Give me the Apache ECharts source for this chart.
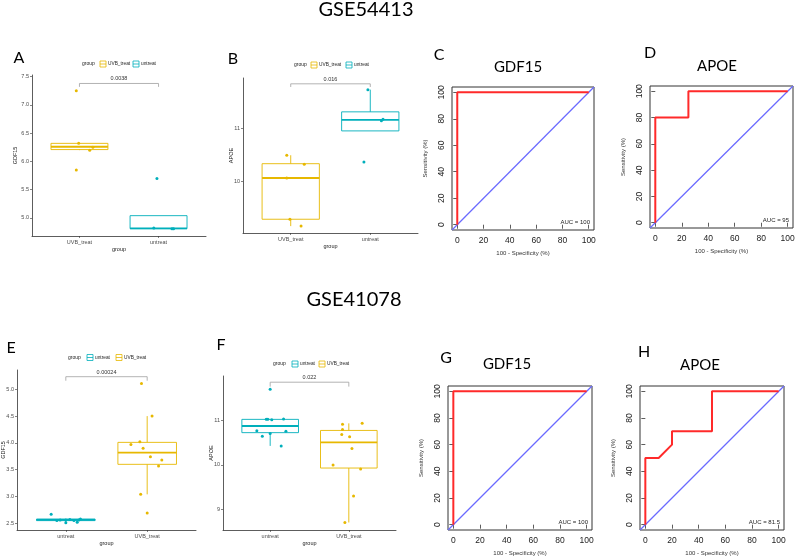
<!DOCTYPE html>
<html><head><meta charset="utf-8">
<script src="https://cdn.jsdelivr.net/npm/echarts@6/dist/echarts.min.js"></script>
<style>html,body{margin:0;padding:0;background:#fff}#c{width:795px;height:558px}</style>
</head><body><div id="c"></div>
<script>
// ---------------- DATA ----------------
const groupColors = {UVB_treat: '#E7B800', untreat: '#00AFBB'};

// GSE54413 – A: GDF15 boxplot
const A_groups = ['UVB_treat', 'untreat'];
const A_stats = [[6.20, 6.21, 6.26, 6.32, 6.32], [4.81, 4.81, 4.815, 5.04, 5.04]]; // lo, q1, med, q3, hi
const A_uvb_x = [0.96, 0.99, 1.17, 1.13, 0.96];
const A_uvb_y = [7.25, 6.32, 6.25, 6.20, 5.85];
const A_unt_x = [1.98, 1.94, 2.17, 2.19];
const A_unt_y = [5.70, 4.82, 4.81, 4.81];
const A_yticks = [5.0, 5.5, 6.0, 6.5, 7.0, 7.5];
const A_bracket = [7.32, 7.38];
const A_p = '0.0038';

// GSE54413 – B: APOE boxplot
const B_groups = ['UVB_treat', 'untreat'];
const B_stats = [[9.15, 9.28, 10.06, 10.33, 10.49], [10.95, 10.95, 11.16, 11.31, 11.73]];
const B_uvb_x = [0.95, 1.17, 0.95, 0.99, 1.13];
const B_uvb_y = [10.49, 10.32, 10.06, 9.28, 9.15];
const B_unt_x = [1.97, 2.16, 2.14, 1.92];
const B_unt_y = [11.73, 11.17, 11.14, 10.36];
const B_yticks = [10, 11];
const B_bracket = [11.78, 11.84];
const B_p = '0.016';

// GSE54413 – C/D: ROC curves
const C_fpr = [0, 0, 100];
const C_tpr = [0, 100, 100];
const C_auc = 'AUC = 100';
const D_fpr = [0, 0, 25, 25, 100];
const D_tpr = [0, 80, 80, 100, 100];
const D_auc = 'AUC = 95';

// GSE41078 – E: GDF15 boxplot
const E_groups = ['untreat', 'UVB_treat'];
const E_stats = [[2.51, 2.55, 2.565, 2.58, 2.58], [3.04, 3.60, 3.82, 4.01, 4.50]];
const E_unt_x = [0.82, 0.89, 1.00, 1.00, 1.14, 1.18, 1.16, 1.05, 0.93, 1.10];
const E_unt_y = [2.67, 2.55, 2.56, 2.51, 2.52, 2.58, 2.56, 2.57, 2.56, 2.55];
const E_uvb_x = [1.93, 2.06, 1.91, 1.80, 1.95, 2.04, 2.18, 2.14, 1.92, 2.00];
const E_uvb_y = [5.11, 4.50, 4.02, 3.97, 3.90, 3.74, 3.68, 3.57, 3.04, 2.69];
const E_yticks = [2.5, 3.0, 3.5, 4.0, 4.5, 5.0];
const E_bracket = [5.16, 5.235];
const E_p = '0.00024';

// GSE41078 – F: APOE boxplot
const F_groups = ['untreat', 'UVB_treat'];
const F_stats = [[10.43, 10.73, 10.88, 11.03, 11.04], [8.70, 9.93, 10.51, 10.78, 10.94]];
const F_unt_x = [1.00, 0.95, 0.97, 1.17, 0.83, 1.20, 0.90, 1.00, 1.14, 1.02];
const F_unt_y = [11.71, 11.03, 11.03, 11.04, 10.77, 10.76, 10.65, 10.71, 10.43, 11.02];
const F_uvb_x = [1.92, 2.17, 1.92, 1.91, 2.01, 2.04, 1.80, 2.15, 2.06, 1.95];
const F_uvb_y = [10.92, 10.94, 10.80, 10.69, 10.64, 10.37, 10.00, 9.91, 9.30, 8.70];
const F_yticks = [9, 10, 11];
const F_bracket = [11.77, 11.87];
const F_p = '0.022';

// GSE41078 – G/H: ROC curves
const G_fpr = [0, 0, 100];
const G_tpr = [0, 100, 100];
const G_auc = 'AUC = 100';
const H_fpr = [0, 0, 10, 20, 20, 50, 50, 100];
const H_tpr = [0, 50, 50, 60, 70, 70, 100, 100];
const H_auc = 'AUC = 81.5';

const rocTicks = [0, 20, 40, 60, 80, 100];

// ---------------- LAYOUT ----------------
const FONT = "'Liberation Sans', Arial, sans-serif";
const TFONT = "Lato, 'Open Sans', sans-serif";
const AX = '#333';
const DIAG = '#6a6aff';
const ROCRED = '#ff2a2a';
const ROCMIN = -4, ROCMAX = 104;

const grids = [], xAxes = [], yAxes = [], series = [], graphics = [];

function boxPanel(L, groups, stats, pts, yticks, bracket, p, ylabel) {
  const gi = grids.length;
  grids.push({left: L.left, top: L.top, width: L.width, height: L.height, containLabel: false, outerBoundsMode: 'none'});
  xAxes.push({
    gridIndex: gi, type: 'value', min: 0.4, max: 2.6,
    axisLine: {show: true, lineStyle: {color: AX, width: 0.8}},
    axisTick: {show: true, customValues: [1, 2], length: 2, lineStyle: {color: AX, width: 0.6}},
    axisLabel: {customValues: [1, 2], formatter: v => groups[Math.round(v) - 1], fontSize: 5.5, color: '#4d4d4d', margin: 3, fontFamily: FONT},
    splitLine: {show: false},
    name: 'group', nameLocation: 'middle', nameGap: 10, nameMoveOverlap: false,
    nameTextStyle: {fontSize: 5.5, color: '#222', fontFamily: FONT}
  });
  yAxes.push({
    gridIndex: gi, type: 'value', min: L.ymin, max: L.ymax,
    axisLine: {show: true, lineStyle: {color: AX, width: 0.8}},
    axisTick: {show: true, customValues: yticks, length: 2, lineStyle: {color: AX, width: 0.6}},
    axisLabel: {customValues: yticks, formatter: v => v.toFixed(L.dec), fontSize: 5.5, color: '#4d4d4d', margin: 3, fontFamily: FONT},
    splitLine: {show: false},
    name: ylabel, nameLocation: 'middle', nameGap: L.nameGap, nameMoveOverlap: false,
    nameTextStyle: {fontSize: 5.5, color: '#222', fontFamily: FONT}
  });
  series.push({
    type: 'custom', xAxisIndex: gi, yAxisIndex: gi, clip: false, silent: true,
    encode: {x: 0, y: [1, 2, 3, 4, 5]},
    data: groups.map((g, i) => [i + 1].concat(stats[i])),
    renderItem: (params, api) => {
      const color = groupColors[groups[params.dataIndex]];
      const x = api.value(0);
      const hw = api.size([0.72, 0])[0] / 2;
      const lo = api.coord([x, api.value(1)]), q1 = api.coord([x, api.value(2)]),
            md = api.coord([x, api.value(3)]), q3 = api.coord([x, api.value(4)]), hi = api.coord([x, api.value(5)]);
      const st = {stroke: color, fill: 'rgba(255,255,255,0)', lineWidth: 0.9};
      return {type: 'group', children: [
        {type: 'line', shape: {x1: hi[0], y1: hi[1], x2: q3[0], y2: q3[1]}, style: st},
        {type: 'line', shape: {x1: q1[0], y1: q1[1], x2: lo[0], y2: lo[1]}, style: st},
        {type: 'rect', shape: {x: q3[0] - hw, y: q3[1], width: hw * 2, height: q1[1] - q3[1]}, style: st},
        {type: 'line', shape: {x1: md[0] - hw, y1: md[1], x2: md[0] + hw, y2: md[1]}, style: {stroke: color, lineWidth: 1.8}}
      ]};
    }
  });
  groups.forEach(g => {
    const [xs, ys] = pts[g];
    series.push({
      type: 'scatter', name: g, xAxisIndex: gi, yAxisIndex: gi,
      symbolSize: 3, itemStyle: {color: groupColors[g], opacity: 1},
      data: xs.map((xv, i) => [xv, ys[i]]), z: 3
    });
  });
  series.push({
    type: 'custom', xAxisIndex: gi, yAxisIndex: gi, clip: false, silent: true,
    encode: {x: [0, 1], y: [2, 3]},
    data: [[1, 2, bracket[0], bracket[1]]],
    renderItem: (params, api) => {
      const a = api.coord([api.value(0), api.value(2)]), b = api.coord([api.value(0), api.value(3)]),
            c = api.coord([api.value(1), api.value(3)]), d = api.coord([api.value(1), api.value(2)]);
      return {type: 'group', children: [
        {type: 'polyline', shape: {points: [a, b, c, d]}, style: {stroke: '#a0a0a0', fill: null, lineWidth: 0.8}},
        {type: 'text', style: {text: p, x: (b[0] + c[0]) / 2, y: b[1] - 1.5, align: 'center', verticalAlign: 'bottom', fontSize: 5.5, fontFamily: FONT, fill: '#333'}}
      ]};
    }
  });
  const lx = L.legX, ly = L.legY;
  graphics.push({type: 'text', x: lx, y: ly, style: {text: 'group', align: 'left', verticalAlign: 'middle', fontSize: 5, fontFamily: FONT, fill: '#222'}});
  let cx = lx + L.legStep[0];
  groups.forEach((g, i) => {
    const c = groupColors[g];
    graphics.push({type: 'rect', shape: {x: cx, y: ly - 3, width: 6, height: 6}, style: {fill: '#fff', stroke: c, lineWidth: 0.8}});
    graphics.push({type: 'line', shape: {x1: cx, y1: ly, x2: cx + 6, y2: ly}, style: {stroke: c, lineWidth: 0.8}});
    graphics.push({type: 'text', x: cx + 8, y: ly, style: {text: g, align: 'left', verticalAlign: 'middle', fontSize: 4.8, fontFamily: FONT, fill: '#222'}});
    cx += L.legStep[i + 1];
  });
}

function rocPanel(L, fpr, tpr, auc) {
  const gi = grids.length;
  grids.push({left: L.left, top: L.top, width: L.width, height: L.height, show: true, borderColor: AX, borderWidth: 1, backgroundColor: 'transparent', containLabel: false, outerBoundsMode: 'none'});
  const common = {
    gridIndex: gi, type: 'value', min: ROCMIN, max: ROCMAX,
    axisLine: {show: false},
    axisTick: {show: true, customValues: rocTicks, length: 4, lineStyle: {color: AX, width: 0.8}},
    splitLine: {show: false},
    nameLocation: 'middle', nameMoveOverlap: false,
    nameTextStyle: {fontSize: 6, color: '#333', fontFamily: FONT}
  };
  xAxes.push(Object.assign({}, common, {
    axisLabel: {customValues: rocTicks, fontSize: 8.5, color: '#222', margin: 6, fontFamily: FONT},
    name: '100 - Specificity (%)', nameGap: 20
  }));
  yAxes.push(Object.assign({}, common, {
    axisLabel: {customValues: rocTicks, fontSize: 8.5, color: '#222', margin: 6, rotate: 90, fontFamily: FONT},
    name: 'Sensitivity (%)', nameGap: 24
  }));
  // diagonal reference line y = x
  series.push({
    type: 'line', xAxisIndex: gi, yAxisIndex: gi, showSymbol: false, silent: true, z: 2,
    color: DIAG, itemStyle: {color: DIAG}, lineStyle: {color: DIAG, width: 1.25, opacity: 1},
    emphasis: {disabled: true},
    data: [[ROCMIN, ROCMIN], [ROCMAX, ROCMAX]]
  });
  series.push({
    type: 'line', xAxisIndex: gi, yAxisIndex: gi, showSymbol: false, silent: true, z: 3,
    color: ROCRED, itemStyle: {color: ROCRED},
    lineStyle: {color: ROCRED, width: 2},
    emphasis: {disabled: true},
    data: fpr.map((v, i) => [v, tpr[i]])
  });
  graphics.push({type: 'text', x: L.left + L.width - 4, y: L.top + L.height - 8, style: {text: auc, align: 'right', verticalAlign: 'middle', fontSize: 6, fontFamily: FONT, fill: '#222'}});
}

const LAY = {
  A: {left: 32, top: 75, width: 174, height: 161, ymin: 4.68, ymax: 7.53, dec: 1, nameGap: 14, legX: 82, legY: 64, legStep: [18, 33]},
  B: {left: 243, top: 78, width: 175, height: 155, ymin: 9.02, ymax: 11.95, dec: 0, nameGap: 8.5, legX: 294, legY: 65, legStep: [17, 35]},
  E: {left: 17, top: 370, width: 179, height: 160, ymin: 2.375, ymax: 5.36, dec: 1, nameGap: 10.5, legX: 68, legY: 357.5, legStep: [19, 29]},
  F: {left: 223, top: 376, width: 173, height: 154, ymin: 8.53, ymax: 12.01, dec: 0, nameGap: 8.5, legX: 273, legY: 364, legStep: [19, 27]},
  C: {left: 452, top: 87, width: 142, height: 143},
  D: {left: 650, top: 86, width: 143, height: 142},
  G: {left: 448, top: 386, width: 144, height: 144},
  H: {left: 640, top: 386, width: 144, height: 144}
};

boxPanel(LAY.A, A_groups, A_stats, {UVB_treat: [A_uvb_x, A_uvb_y], untreat: [A_unt_x, A_unt_y]}, A_yticks, A_bracket, A_p, 'GDF15');
boxPanel(LAY.B, B_groups, B_stats, {UVB_treat: [B_uvb_x, B_uvb_y], untreat: [B_unt_x, B_unt_y]}, B_yticks, B_bracket, B_p, 'APOE');
rocPanel(LAY.C, C_fpr, C_tpr, C_auc);
rocPanel(LAY.D, D_fpr, D_tpr, D_auc);
boxPanel(LAY.E, E_groups, E_stats, {untreat: [E_unt_x, E_unt_y], UVB_treat: [E_uvb_x, E_uvb_y]}, E_yticks, E_bracket, E_p, 'GDF15');
boxPanel(LAY.F, F_groups, F_stats, {untreat: [F_unt_x, F_unt_y], UVB_treat: [F_uvb_x, F_uvb_y]}, F_yticks, F_bracket, F_p, 'APOE');
rocPanel(LAY.G, G_fpr, G_tpr, G_auc);
rocPanel(LAY.H, H_fpr, H_tpr, H_auc);

function txt(t, x, y, size, align) {
  graphics.push({type: 'text', x: x, y: y, style: {text: t, align: align || 'center', verticalAlign: 'middle', fontSize: size, fontFamily: TFONT, fill: '#000'}});
}
txt('GSE54413', 366, 10, 20);
txt('GSE41078', 354, 300, 20);
txt('A', 19, 58, 16); txt('B', 233, 59, 16); txt('C', 439, 55, 16); txt('D', 650, 53, 16);
txt('E', 11, 348, 16); txt('F', 221, 345, 16); txt('G', 446, 358, 16); txt('H', 644, 352, 16);
txt('GDF15', 518, 67, 15); txt('APOE', 717, 66, 15); txt('GDF15', 507, 364, 15); txt('APOE', 700, 365, 15);

const chart = echarts.init(document.getElementById('c'), null, {renderer: 'canvas'});
chart.setOption({
  animation: false,
  backgroundColor: '#fff',
  grid: grids, xAxis: xAxes, yAxis: yAxes, series: series,
  graphic: graphics
});
</script></body></html>
